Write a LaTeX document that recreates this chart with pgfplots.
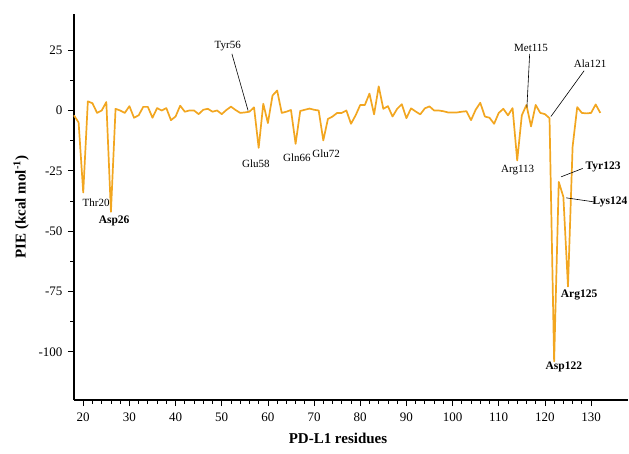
\documentclass[border=0pt]{standalone}
\usepackage{pgfplots}
\pgfplotsset{compat=1.18}
\usepackage{fontspec}
\setmainfont{Liberation Serif}
\definecolor{pie}{RGB}{242,166,32}
\begin{document}
\begin{tikzpicture}[x=1pt,y=1pt]
\useasboundingbox (0,0) rectangle (629,453);
\begin{axis}[
  at={(74pt,53pt)}, anchor=south west,
  scale only axis, width=554pt, height=386pt,
  xmin=18, xmax=138, ymin=-120, ymax=40,
  axis x line=bottom, axis y line=left,
  axis line style={-, line width=1.2pt},
  tick align=outside,
  xtick={20,30,...,130}, minor x tick num=4,
  ytick={-100,-75,-50,-25,0,25}, minor y tick num=1,
  major tick length=6pt, minor tick length=3.5pt,
  tick style={black, line width=0.8pt},
  every tick label/.append style={font=\fontsize{13}{13}\selectfont},
  /pgf/number format/assume math mode=true,
  yticklabel style={/pgf/number format/fixed, xshift=-2pt},
  xticklabel style={yshift=-3pt},
  xlabel={\textbf{PD-L1 residues}},
  ylabel={\textbf{PIE (kcal mol\textsuperscript{-1})}},
  label style={font=\fontsize{15}{15}\selectfont},
  xlabel style={xshift=-13pt, yshift=-5pt},
  ylabel style={yshift=3pt},
  clip=false,
]
\addplot[pie, line width=1.7pt, line join=round] table {
18 -2
19 -5
20 -34
21 3.8
22 3
23 -1
24 0
25 3.5
26 -42
27 0.7
28 0
29 -1
30 1.8
31 -3
32 -2
33 1.5
34 1.5
35 -3
36 1
37 0
38 1
39 -4
40 -2.5
41 2
42 -0.5
43 0
44 0
45 -1.5
46 0.3
47 0.7
48 -0.5
49 0
50 -1.5
51 0.2
52 1.6
53 0.2
54 -1
55 -0.8
56 -0.5
57 1.3
58 -15.5
59 2.8
60 -5.2
61 6.2
62 8.3
63 -1
64 -0.5
65 0.2
66 -13.8
67 -0.2
68 0.3
69 0.8
70 0.3
71 0
72 -12.4
73 -3.5
74 -2.5
75 -1
76 -1
77 0
78 -5.5
79 -2
80 2.3
81 2.3
82 7
83 -1.6
84 10
85 0.7
86 1.8
87 -2.5
88 0.7
89 2.6
90 -3.2
91 0.9
92 -0.4
93 -1.6
94 0.9
95 1.7
96 0
97 0
98 -0.3
99 -0.8
100 -0.8
101 -0.8
102 -0.5
103 -0.3
104 -4
105 0.3
106 3.2
107 -2.5
108 -3
109 -5.5
110 -1
111 0.7
112 -2
113 1
114 -20.7
115 -2
116 2.3
117 -6.6
118 2.3
119 -1
120 -1.5
121 -3.2
122 -104
123 -29.6
124 -35.8
125 -73
126 -15
127 1.4
128 -1
129 -1.2
130 -1
131 2.5
132 -1
};
\begin{scope}[every node/.style={font=\fontsize{11}{11}\selectfont, inner sep=0pt}]
\node at (axis cs:22.8,-38.4) {Thr20};
\node[font=\fontsize{11.5}{11.5}\selectfont\bfseries] at (axis cs:26.7,-45.8) {Asp26};
\node at (axis cs:51.3,26.8) {Tyr56};
\draw[black, line width=0.6pt] (axis cs:52.2,23.5) -- (axis cs:55.7,0);
\node at (axis cs:57.4,-21.9) {Glu58};
\node at (axis cs:66.3,-19.4) {Gln66};
\node at (axis cs:72.6,-17.8) {Glu72};
\node at (axis cs:114.1,-24.8) {Arg113};
\node at (axis cs:117,26) {Met115};
\draw[black, line width=0.6pt] (axis cs:116.7,23.5) -- (axis cs:116.1,1.2);
\node at (axis cs:129.8,19.4) {Ala121};
\draw[black, line width=0.6pt] (axis cs:128.5,16.5) -- (axis cs:121.3,-2.5);
\node[font=\fontsize{11.5}{11.5}\selectfont\bfseries] at (axis cs:132.6,-23.5) {Tyr123};
\draw[black, line width=0.6pt] (axis cs:128.2,-24) -- (axis cs:123.5,-27.5);
\node[font=\fontsize{11.5}{11.5}\selectfont\bfseries] at (axis cs:134.1,-38) {Lys124};
\draw[black, line width=0.6pt] (axis cs:124.6,-36.2) -- (axis cs:130.7,-37.9);
\node[font=\fontsize{11.5}{11.5}\selectfont\bfseries] at (axis cs:127.4,-76.4) {Arg125};
\node[font=\fontsize{11.5}{11.5}\selectfont\bfseries] at (axis cs:124.1,-106.1) {Asp122};
\end{scope}
\end{axis}
\end{tikzpicture}
\end{document}
